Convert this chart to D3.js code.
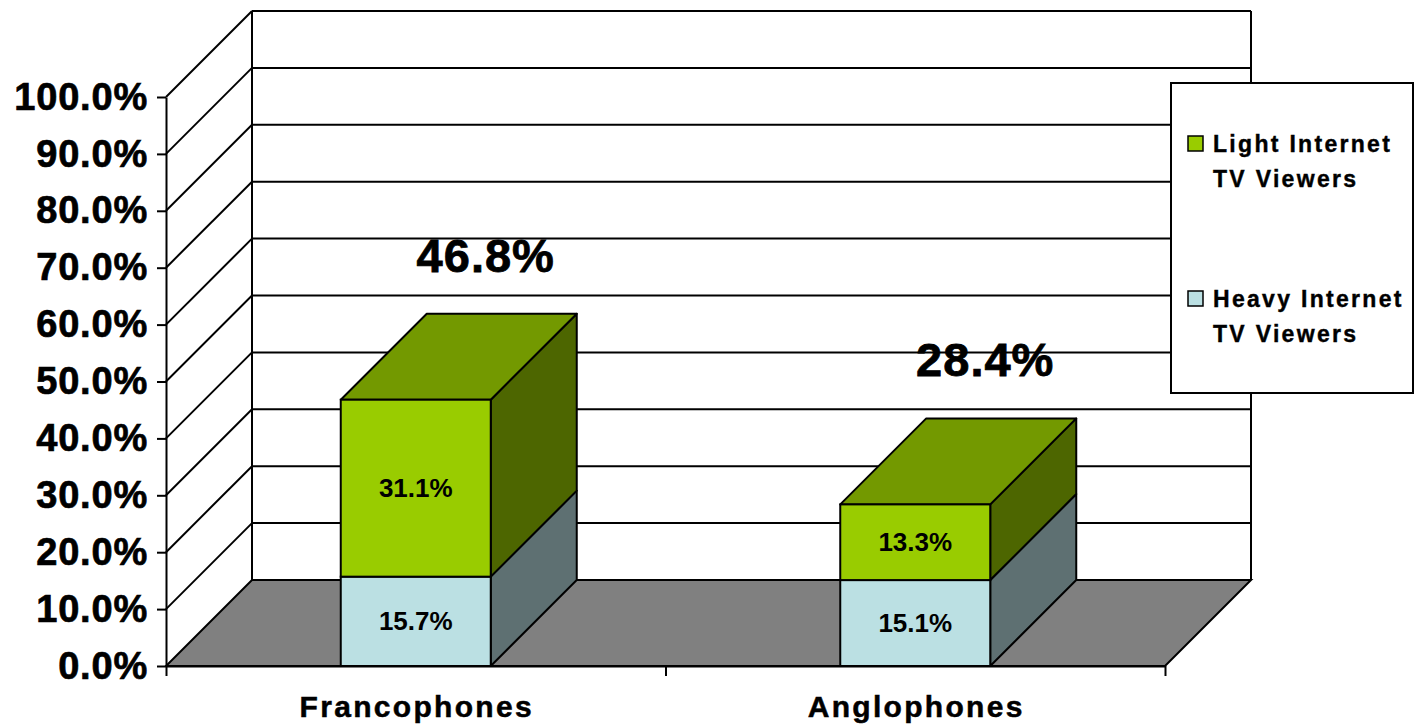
<!DOCTYPE html>
<html lang="en">
<head>
  <meta charset="UTF-8">
  <title>Internet TV viewers</title>
  <style>
    body { margin: 0; background: #fff; }
    text { font-family: "Liberation Sans", Arial, sans-serif; font-weight: bold; }
  </style>
</head>
<body>
  <script src="https://cdn.jsdelivr.net/npm/d3@7"></script>
  <script>
  var categories = ["Francophones", "Anglophones"];
  var heavy = [15.7, 15.1];
  var light = [31.1, 13.3];
  var totals = [46.8, 28.4];
  var yTicks = [0, 10, 20, 30, 40, 50, 60, 70, 80, 90, 100];
  var legendLabels = [["Light Internet", "TV Viewers"], ["Heavy Internet", "TV Viewers"]];

  var w = 1414, h = 728;
  var depth = 86;
  var barW = 150;
  var colors = {
    lightFront: "#99cc00", lightTop: "#739900", lightSide: "#4d6600",
    heavyFront: "#bbe0e3", heavySide: "#5e7072", floor: "#808080"
  };

  var svg = d3.select("body").append("svg").attr("width", w).attr("height", h);

  var y = d3.scaleLinear().domain([0, 100]).range([666, 97]);
  var xEdge = d3.scaleLinear().domain([0, categories.length]).range([166, 1165]);
  var x = d3.scalePoint().domain(categories).range([166, 1165]).padding(0.5);

  var x0 = xEdge(0), x1 = xEdge(categories.length);

  // floor
  svg.append("polygon")
    .attr("points", [[x0, y(0)], [x1, y(0)], [x1 + depth, y(0) - depth], [x0 + depth, y(0) - depth]].join(" "))
    .attr("fill", colors.floor).attr("stroke", "#000").attr("stroke-width", 2);

  // back wall grid
  svg.selectAll("line.grid")
    .data(yTicks.filter(function (d) { return d > 0; }))
    .enter().append("line")
    .attr("x1", x0 + depth).attr("x2", x1 + depth)
    .attr("y1", function (d) { return y(d) - depth; })
    .attr("y2", function (d) { return y(d) - depth; })
    .attr("stroke", "#000").attr("stroke-width", 2);

  // side wall diagonals
  svg.selectAll("line.diag")
    .data(yTicks.filter(function (d) { return d > 0; }))
    .enter().append("line")
    .attr("x1", x0).attr("x2", x0 + depth)
    .attr("y1", function (d) { return y(d); })
    .attr("y2", function (d) { return y(d) - depth; })
    .attr("stroke", "#000").attr("stroke-width", 2);

  [x0 + depth, x1 + depth].forEach(function (xx) {
    svg.append("line")
      .attr("x1", xx).attr("x2", xx)
      .attr("y1", y(100) - depth).attr("y2", y(0) - depth)
      .attr("stroke", "#000").attr("stroke-width", 2);
  });

  // bars
  function drawBlock(g, cx, v0, v1, front, side, top) {
    var l = cx - barW / 2, r = cx + barW / 2, yb = y(v0), yt = y(v1);
    g.append("polygon")
      .attr("points", [[r, yb], [r + depth, yb - depth], [r + depth, yt - depth], [r, yt]].join(" "))
      .attr("fill", side).attr("stroke", "#000").attr("stroke-width", 2).attr("stroke-linejoin", "round");
    if (top) {
      g.append("polygon")
        .attr("points", [[l, yt], [l + depth, yt - depth], [r + depth, yt - depth], [r, yt]].join(" "))
        .attr("fill", top).attr("stroke", "#000").attr("stroke-width", 2).attr("stroke-linejoin", "round");
    }
    g.append("rect")
      .attr("x", l).attr("y", yt).attr("width", barW).attr("height", yb - yt)
      .attr("fill", front).attr("stroke", "#000").attr("stroke-width", 2);
  }

  categories.forEach(function (c, i) {
    var g = svg.append("g");
    var cx = x(c);
    drawBlock(g, cx, 0, heavy[i], colors.heavyFront, colors.heavySide, null);
    drawBlock(g, cx, heavy[i], heavy[i] + light[i], colors.lightFront, colors.lightSide, colors.lightTop);

    g.append("text")
      .attr("x", cx).attr("y", (y(0) + y(heavy[i])) / 2)
      .attr("dy", "0.35em").attr("text-anchor", "middle")
      .attr("font-size", 26).text(heavy[i].toFixed(1) + "%");
    g.append("text")
      .attr("x", cx).attr("y", (y(heavy[i]) + y(heavy[i] + light[i])) / 2)
      .attr("dy", "0.35em").attr("text-anchor", "middle")
      .attr("font-size", 26).text(light[i].toFixed(1) + "%");
    g.append("text")
      .attr("x", cx + 70).attr("y", y(totals[i]) - 128)
      .attr("text-anchor", "middle").attr("font-size", 47)
      .attr("letter-spacing", 1)
      .attr("stroke", "#000").attr("stroke-width", 0.8)
      .text(totals[i].toFixed(1) + "%");
  });

  // y axis
  var yAxis = svg.append("g")
    .attr("transform", "translate(" + x0 + ",0)")
    .call(d3.axisLeft(y).tickValues(yTicks).tickSize(9).tickSizeOuter(0).tickPadding(9)
      .tickFormat(function (d) { return d.toFixed(1) + "%"; }));
  yAxis.selectAll("path, line").attr("stroke", "#000").attr("stroke-width", 2);
  yAxis.selectAll("text")
    .attr("font-size", 38).attr("fill", "#000").attr("letter-spacing", 0.8)
    .attr("stroke", "#000").attr("stroke-width", 0.7)
    .style("font-family", '"Liberation Sans", Arial, sans-serif').style("font-weight", "bold");

  // x axis
  var xAxis = svg.append("g")
    .attr("transform", "translate(0," + y(0) + ")")
    .call(d3.axisBottom(xEdge).ticks(categories.length).tickSize(10).tickSizeOuter(0).tickFormat(""));
  xAxis.selectAll("path, line").attr("stroke", "#000").attr("stroke-width", 2);

  svg.selectAll("text.cat")
    .data(categories)
    .enter().append("text")
    .attr("class", "cat")
    .attr("x", function (d) { return x(d) + 1; })
    .attr("y", 717)
    .attr("text-anchor", "middle")
    .attr("font-size", 30).attr("letter-spacing", 2.3)
    .attr("stroke", "#000").attr("stroke-width", 0.5)
    .text(function (d) { return d; });

  // legend
  var legend = svg.append("g");
  legend.append("rect")
    .attr("x", 1171).attr("y", 83).attr("width", 242).attr("height", 310)
    .attr("fill", "#fff").attr("stroke", "#000").attr("stroke-width", 2);
  var legendColors = [colors.lightFront, colors.heavyFront];
  var entry = legend.selectAll("g.entry")
    .data(legendLabels)
    .enter().append("g")
    .attr("transform", function (d, i) { return "translate(0," + (i * 155) + ")"; });
  entry.append("rect")
    .attr("x", 1188).attr("y", 136).attr("width", 15).attr("height", 15)
    .attr("fill", function (d, i) { return legendColors[i]; })
    .attr("stroke", "#000").attr("stroke-width", 1.5);
  entry.append("text")
    .attr("x", 1213).attr("y", 152)
    .attr("font-size", 23).attr("letter-spacing", 2.3)
    .attr("stroke", "#000").attr("stroke-width", 0.4)
    .text(function (d) { return d[0]; });
  entry.append("text")
    .attr("x", 1213).attr("y", 187)
    .attr("font-size", 23).attr("letter-spacing", 2.3)
    .attr("stroke", "#000").attr("stroke-width", 0.4)
    .text(function (d) { return d[1]; });
  </script>
</body>
</html>
